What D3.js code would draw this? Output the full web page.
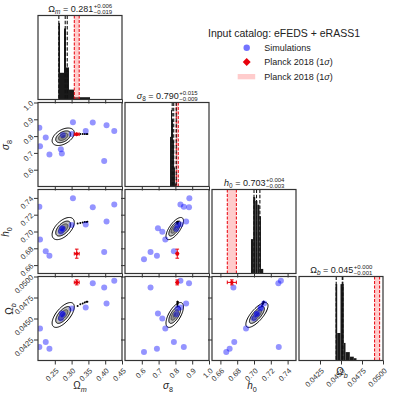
<!DOCTYPE html>
<html>
<head>
<meta charset="utf-8">
<script src="https://cdn.jsdelivr.net/npm/d3@7"></script>
<style>
body { margin: 0; background: #fff; }
svg text { font-family: "Liberation Sans", Arial, sans-serif; fill: #222; }
.tlab { font-size: 7.5px; fill: #333; }
</style>
</head>
<body>
<svg id="chart" width="397" height="398"></svg>
<script>

// ---- data ----
var params = ["Om", "s8", "h0", "Ob"];
var symMain = ["Ω", "σ", "h", "Ω"];
var symSub = ["m", "8", "0", "b"];
var domains = [[0.20, 0.45], [0.5, 1.0], [0.65, 0.75], [0.040, 0.050]];
var tickVals = [
  [0.25, 0.30, 0.35, 0.40, 0.45],
  [0.6, 0.7, 0.8, 0.9, 1.0],
  [0.66, 0.68, 0.70, 0.72, 0.74],
  [0.0425, 0.0450, 0.0475, 0.0500]
];
var tickFmts = [".2f", ".1f", ".2f", ".4f"];

// titles: median, +err, -err
var titleVal = ["0.281", "0.790", "0.703", "0.045"];
var titlePlus = ["0.006", "0.015", "0.004", "0.000"];
var titleMinus = ["0.019", "0.009", "0.003", "0.001"];

// 16/50/84 quantiles (dashed lines)
var q16 = [0.262, 0.781, 0.700, 0.04443];
var q50 = [0.281, 0.790, 0.703, 0.04515];
var q84 = [0.287, 0.805, 0.707, 0.04522];

// simulations (one entry per simulation)
var simOm = [0.427, 0.363, 0.397, 0.404, 0.342, 0.300, 0.304, 0.204, 0.206, 0.223, 0.234, 0.268, 0.271, 0.274, 0.190];
var simS8 = [0.830, 0.881, 0.652, 0.864, 0.830, 0.812, 0.883, 0.850, 0.740, 0.791, 0.690, 0.722, 0.696, 0.806, 0.613];
var simH0 = [0.732, 0.729, 0.6755, 0.712, 0.7083, 0.7077, 0.7395, 0.7295, 0.6905, 0.6765, 0.671, 0.6998, 0.7038, 0.703, 0.667];
var simOb = [0.0495, 0.0492, 0.0487, 0.0468, 0.0463, 0.0462, 0.0510, 0.0416, 0.0438, 0.0422, 0.0414, 0.0450, 0.0456, 0.0455, 0.0410];

// Planck 2018
var planckMean = [0.3153, 0.8111, 0.6736, 0.0493];
var planckErr = [0.0073, 0.0060, 0.0054, 0.0003];

// marginal histograms (bin edges, counts)
var histOmEdges = [0.2604, 0.2655, 0.2774, 0.2833, 0.2923, 0.3071, 0.3548];
var histOmCounts = [100, 35, 93, 42, 13, 3];
var histS8Edges = [0.768, 0.774, 0.780, 0.786, 0.792, 0.798, 0.804];
var histS8Counts = [65, 100, 88, 60, 25, 4];
var histH0Edges = [0.6964, 0.6990, 0.7015, 0.7040, 0.7065, 0.7083, 0.7110];
var histH0Counts = [45, 100, 95, 90, 75, 6];
var histObEdges = [0.044345, 0.044548, 0.044940, 0.045333, 0.045536, 0.046048, 0.046524, 0.046845];
var histObCounts = [100, 36, 100, 23, 11, 5, 3];

// posterior contours: centre, width, correlation per pair
var postMean = [0.275, 0.796, 0.7035, 0.04542];
var postSig = [0.0165, 0.026, 0.0066, 0.00074];
var pairs = [[1, 0], [2, 0], [2, 1], [3, 0], [3, 1], [3, 2]];
var pairRho = [0.45, 0.55, 0.7, 0.65, 0.65, 0.75];
var levels = [2, 1.35, 0.85, 0.4];
var levelFill = ["#ffffff", "#c2c2c2", "#8e8e8e", "#5c5c5c"];
var levelLine = [1, 1, 0.5, 0];

// outlying chain samples (the black tail)
var tailOm = [0.318, 0.326, 0.333, 0.339, 0.344, 0.347];
var tailS8 = [0.812, 0.812, 0.813, 0.813, 0.813, 0.813];
var tailH0 = [0.7095, 0.7102, 0.7108, 0.7112, 0.7114, 0.7115];
var tailOb = [0.0465, 0.0467, 0.0468, 0.0469, 0.0470, 0.0470];

// ---- layout ----
var S = 84, GAP = 3, X0 = 38, Y0 = 15.5;

var svg = d3.select("#chart");
var xs = domains.map(d => d3.scaleLinear().domain(d).range([0, S]));
var ys = domains.map(d => d3.scaleLinear().domain(d).range([S, 0]));

var sims = simOm.map((v, k) => [simOm[k], simS8[k], simH0[k], simOb[k]]);
var tail = tailOm.map((v, k) => [tailOm[k], tailS8[k], tailH0[k], tailOb[k]]);
var hists = [[histOmEdges, histOmCounts], [histS8Edges, histS8Counts],
             [histH0Edges, histH0Counts], [histObEdges, histObCounts]];

function panel(i, j) {
  var g = svg.append("g").attr("transform", `translate(${X0 + j * (S + GAP)},${Y0 + i * (S + GAP)})`);
  var id = "clip" + i + j;
  g.append("clipPath").attr("id", id).append("rect").attr("width", S).attr("height", S);
  var inner = g.append("g").attr("clip-path", `url(#${id})`);
  return [g, inner];
}

function xAxis(g, j, labels) {
  var ax = g.append("g").attr("transform", `translate(0,${S})`)
    .call(d3.axisBottom(xs[j]).tickValues(tickVals[j]).tickSize(4).tickSizeOuter(0)
      .tickFormat(d3.format(tickFmts[j])));
  ax.attr("font-size", null).attr("font-family", null);
  ax.select(".domain").remove();
  ax.selectAll("line").attr("stroke", "#333");
  if (!labels) { ax.selectAll("text").remove(); return; }
  ax.selectAll("text").attr("class", "tlab").attr("y", null).attr("dy", "0.35em")
    .attr("text-anchor", "end").attr("transform", "translate(2,9) rotate(-45)");
}

function yAxis(g, i, labels) {
  var ax = g.append("g")
    .call(d3.axisLeft(ys[i]).tickValues(tickVals[i]).tickSize(4).tickSizeOuter(0)
      .tickFormat(d3.format(tickFmts[i])));
  ax.attr("font-size", null).attr("font-family", null);
  ax.select(".domain").remove();
  ax.selectAll("line").attr("stroke", "#333");
  if (!labels) { ax.selectAll("text").remove(); return; }
  ax.selectAll("text").attr("class", "tlab").attr("x", null).attr("dy", "0.35em")
    .attr("text-anchor", "end").attr("transform", "translate(-6,-1) rotate(-45)");
}

// symbol with subscript; returns the dy still to undo
function mathText(t, k, size) {
  t.append("tspan").attr("font-style", k == 0 || k == 3 ? "normal" : "italic").text(symMain[k]);
  t.append("tspan").attr("font-size", size * 0.72).attr("dy", size * 0.25)
    .attr("font-style", k == 1 || k == 2 ? "normal" : "italic").text(symSub[k]);
  return -size * 0.25;
}

var line = d3.line().curve(d3.curveLinearClosed);

function ellipse(i, j, r, rho) {
  return d3.range(0, 360, 5).map(a => {
    var t = a * Math.PI / 180, u = Math.cos(t), v = Math.sin(t);
    return [xs[j](postMean[j] + r * postSig[j] * u),
            ys[i](postMean[i] + r * postSig[i] * (rho * u + Math.sqrt(1 - rho * rho) * v))];
  });
}

// ---- diagonal: histograms ----
for (var k = 0; k < 4; k++) {
  var [g, inner] = panel(k, k);
  var edges = hists[k][0], counts = hists[k][1];
  var hy = d3.scaleLinear().domain([0, 1.1 * d3.max(counts)]).range([S, 0]);

  inner.selectAll("rect.bar").data(counts).enter().append("rect")
    .attr("x", (d, b) => xs[k](edges[b]))
    .attr("width", (d, b) => xs[k](edges[b + 1]) - xs[k](edges[b]))
    .attr("y", d => hy(d))
    .attr("height", d => S - hy(d))
    .attr("fill", "#1a1a1a");

  // planck band
  var lo = planckMean[k] - planckErr[k], hi = planckMean[k] + planckErr[k];
  inner.append("rect").attr("x", xs[k](lo)).attr("width", xs[k](hi) - xs[k](lo))
    .attr("y", 0).attr("height", S).attr("fill", "#ff8080").attr("fill-opacity", 0.4);
  [lo, hi].forEach(v => inner.append("line")
    .attr("x1", xs[k](v)).attr("x2", xs[k](v)).attr("y1", 0).attr("y2", S)
    .attr("stroke", "#e8000b").attr("stroke-width", 1).attr("stroke-dasharray", "3,1.5"));

  // quantiles
  [q16[k], q50[k], q84[k]].forEach(v => inner.append("line")
    .attr("x1", xs[k](v)).attr("x2", xs[k](v)).attr("y1", 0).attr("y2", S)
    .attr("stroke", "#111").attr("stroke-width", 1.1).attr("stroke-dasharray", "3.5,1.8"));

  xAxis(g, k, k == 3);
  g.append("rect").attr("width", S).attr("height", S).attr("fill", "none")
    .attr("stroke", "#333").attr("stroke-width", 1.2);

  // title
  var tg = svg.append("g");
  var t1 = tg.append("text").attr("font-size", 9);
  var back = mathText(t1, k, 9);
  t1.append("tspan").attr("dy", back).text(" = " + titleVal[k]);
  var w1 = t1.node().getComputedTextLength();
  var tp = tg.append("text").attr("font-size", 6).attr("x", w1 + 0.5).attr("y", -4).text("+" + titlePlus[k]);
  var tm = tg.append("text").attr("font-size", 6).attr("x", w1 + 0.5).attr("y", 2.5).text("\u2212" + titleMinus[k]);
  var w2 = Math.max(tp.node().getComputedTextLength(), tm.node().getComputedTextLength());
  var cx = X0 + k * (S + GAP) + S / 2;
  tg.attr("transform", `translate(${cx - (w1 + w2) / 2},${Y0 + k * (S + GAP) - 4})`);
}

// ---- lower triangle: 2D panels ----
pairs.forEach((p, n) => {
  var i = p[0], j = p[1], rho = pairRho[n];
  var [g, inner] = panel(i, j);

  levels.forEach((r, l) => {
    inner.append("path").attr("d", line(ellipse(i, j, r, rho)))
      .attr("fill", levelFill[l])
      .attr("stroke", levelLine[l] ? "#000" : "none").attr("stroke-width", levelLine[l]);
  });

  inner.selectAll("circle.tail").data(tail).enter().append("circle")
    .attr("cx", d => xs[j](d[j])).attr("cy", d => ys[i](d[i])).attr("r", 1)
    .attr("fill", "#000");

  inner.selectAll("circle.sim").data(sims).enter().append("circle")
    .attr("cx", d => xs[j](d[j])).attr("cy", d => ys[i](d[i])).attr("r", 3)
    .attr("fill", "#0000ff").attr("fill-opacity", 0.42);

  // planck point with error bars
  var px = xs[j](planckMean[j]), py = ys[i](planckMean[i]);
  var ex0 = xs[j](planckMean[j] - planckErr[j]), ex1 = xs[j](planckMean[j] + planckErr[j]);
  var ey0 = ys[i](planckMean[i] - planckErr[i]), ey1 = ys[i](planckMean[i] + planckErr[i]);
  var pl = inner.append("g").attr("stroke", "#e8000b").attr("stroke-width", 1);
  pl.append("line").attr("x1", ex0).attr("x2", ex1).attr("y1", py).attr("y2", py);
  pl.append("line").attr("x1", px).attr("x2", px).attr("y1", ey0).attr("y2", ey1);
  [ex0, ex1].forEach(x => pl.append("line").attr("x1", x).attr("x2", x).attr("y1", py - 1.8).attr("y2", py + 1.8));
  [ey0, ey1].forEach(y => pl.append("line").attr("y1", y).attr("y2", y).attr("x1", px - 1.8).attr("x2", px + 1.8));
  inner.append("path").attr("d", d3.symbol(d3.symbolDiamond2, 14)())
    .attr("transform", `translate(${px},${py})`).attr("fill", "#e8000b");

  xAxis(g, j, i == 3);
  yAxis(g, i, j == 0);
  g.append("rect").attr("width", S).attr("height", S).attr("fill", "none")
    .attr("stroke", "#333").attr("stroke-width", 1.2);
});

// ---- axis labels ----
var xLabPos = [[80, 389], [168, 389], [252, 389], [342, 375]];
var yLabPos = [null, [9, 145], [9, 232], [13, 309]];
for (var k = 0; k < 4; k++) {
  var t = svg.append("text").attr("font-size", 10).attr("text-anchor", "middle")
    .attr("x", xLabPos[k][0]).attr("y", xLabPos[k][1]);
  mathText(t, k, 10);
  if (yLabPos[k]) {
    var ty = svg.append("text").attr("font-size", 10).attr("text-anchor", "middle")
      .attr("transform", `translate(${yLabPos[k][0]},${yLabPos[k][1]}) rotate(-90)`);
    mathText(ty, k, 10);
  }
}

// ---- legend ----
var leg = svg.append("g");
leg.append("text").attr("x", 208).attr("y", 36.5).attr("font-size", 10.5).text("Input catalog: eFEDS + eRASS1");
leg.append("circle").attr("cx", 246.7).attr("cy", 47.7).attr("r", 3.2).attr("fill", "#0000ff").attr("fill-opacity", 0.55);
leg.append("path").attr("d", d3.symbol(d3.symbolDiamond2, 40)()).attr("transform", "translate(246.7,62)").attr("fill", "#e8000b");
leg.append("rect").attr("x", 237.7).attr("y", 74).attr("width", 17.5).attr("height", 5.3).attr("fill", "#ff8080").attr("fill-opacity", 0.4);
var legText = [["Simulations"], ["Planck 2018 (1", "σ", ")"], ["Planck 2018 (1", "σ", ")"]];
[50.8, 65.1, 79.8].forEach((y, r) => {
  var t = leg.append("text").attr("x", 264.3).attr("y", y).attr("font-size", 9);
  legText[r].forEach((s, m) => t.append("tspan").attr("font-style", m == 1 ? "italic" : "normal").text(s));
});

</script>
</body>
</html>
